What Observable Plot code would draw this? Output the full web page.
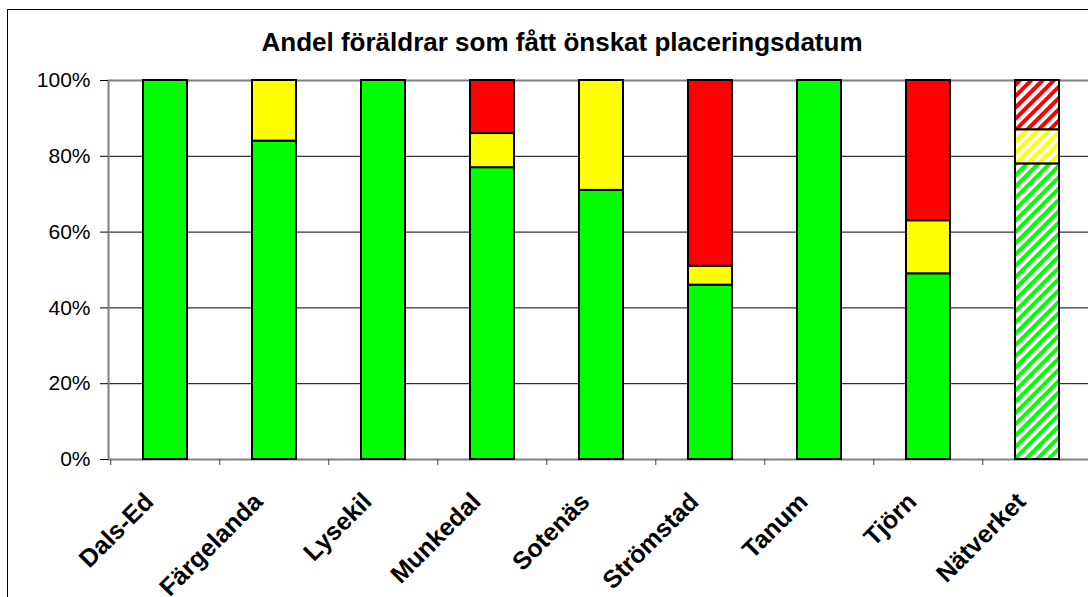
<!DOCTYPE html>
<html><head><meta charset="utf-8">
<script src="https://cdn.jsdelivr.net/npm/d3@7"></script>
<script src="https://cdn.jsdelivr.net/npm/@observablehq/plot@0.6"></script>
<style>
html,body{margin:0;padding:0;background:#fff;}
#wrap{width:1088px;height:597px;overflow:hidden;position:relative;background:#fff;}
#wrap svg{max-width:none !important;}
</style></head><body><div id="wrap"></div>
<script>
const title = "Andel föräldrar som fått önskat placeringsdatum";
const categories = ["Dals-Ed","Färgelanda","Lysekil","Munkedal","Sotenäs","Strömstad","Tanum","Tjörn","Nätverket"];
const green  = [100, 84, 100, 77, 71, 46, 100, 49, 78];
const yellow = [0, 16, 0, 9, 29, 5, 0, 14, 9];
const red    = [0, 0, 0, 14, 0, 49, 0, 37, 13];
const hatchedCategories = ["Nätverket"];
const yTicks = [0, 20, 40, 60, 80, 100];
const seriesNames = ["green", "yellow", "red"];
const seriesColors = ["#00ff00", "#ffff00", "#ff0000"];

const seriesValues = {green, yellow, red};
const rows = [];
categories.forEach((cat, i) => {
  seriesNames.forEach(s => {
    const v = seriesValues[s][i];
    if (v > 0) rows.push({cat, series: s, value: v, key: hatchedCategories.includes(cat) ? s + "-h" : s});
  });
});
const colorDomain = [...seriesNames, ...seriesNames.map(s => s + "-h")];
const colorRange = [...seriesColors, ...seriesNames.map(s => `url(#hatch-${s})`)];

const W = 1100, H = 597;
const chart = Plot.plot({
  width: W, height: H,
  marginLeft: 108, marginRight: W - 1093.5, marginTop: 80, marginBottom: H - 459,
  style: {fontFamily: "'Liberation Sans', Arial, sans-serif", fontSize: "20px", color: "black", background: "white", maxWidth: "none"},
  x: {domain: categories, paddingInner: 0.6, paddingOuter: 0.3, axis: null, label: null},
  y: {domain: [0, 100], axis: null, label: null},
  color: {domain: colorDomain, range: colorRange},
  marks: [
    Plot.gridY({ticks: [20, 40, 60, 80], stroke: "black", strokeOpacity: 1, strokeWidth: 1}),
    Plot.frame({stroke: "#808080", strokeWidth: 2}),
    Plot.axisY({ticks: yTicks, tickFormat: d => d + "%", tickSize: 8, tickPadding: 10, fontSize: 21, stroke: "black", label: null}),
    Plot.axisX({tickFormat: () => "", tickSize: 6, dx: -(1093.5 - 108) / categories.length / 2, stroke: "#444", label: null}),
    Plot.axisX({tickSize: 0, tickPadding: 38, tickRotate: -45, dx: -16, fontSize: 25, fontWeight: "bold", label: null}),
    Plot.barY(rows, {x: "cat", y: "value", fill: "key", stroke: "black", strokeWidth: 2, inset: 0})
  ]
});

const svg = d3.select(chart);
const defs = svg.insert("defs", ":first-child");
seriesNames.forEach((s, i) => {
  const p = defs.append("pattern").attr("id", `hatch-${s}`).attr("patternUnits", "userSpaceOnUse")
    .attr("width", 8).attr("height", 8).attr("patternTransform", "rotate(45)");
  p.append("rect").attr("width", 8).attr("height", 8).attr("fill", "white");
  p.append("rect").attr("width", 4).attr("height", 8).attr("fill", seriesColors[i]);
});
svg.append("rect").attr("x", 7.5).attr("y", 9.5).attr("width", 1200).attr("height", 800)
  .attr("fill", "none").attr("stroke", "black").attr("stroke-width", 1);
svg.append("text").attr("x", 562).attr("y", 51).attr("text-anchor", "middle")
  .attr("font-size", 26).attr("font-weight", "bold").attr("fill", "black").text(title);

document.getElementById("wrap").appendChild(chart);
</script></body></html>
